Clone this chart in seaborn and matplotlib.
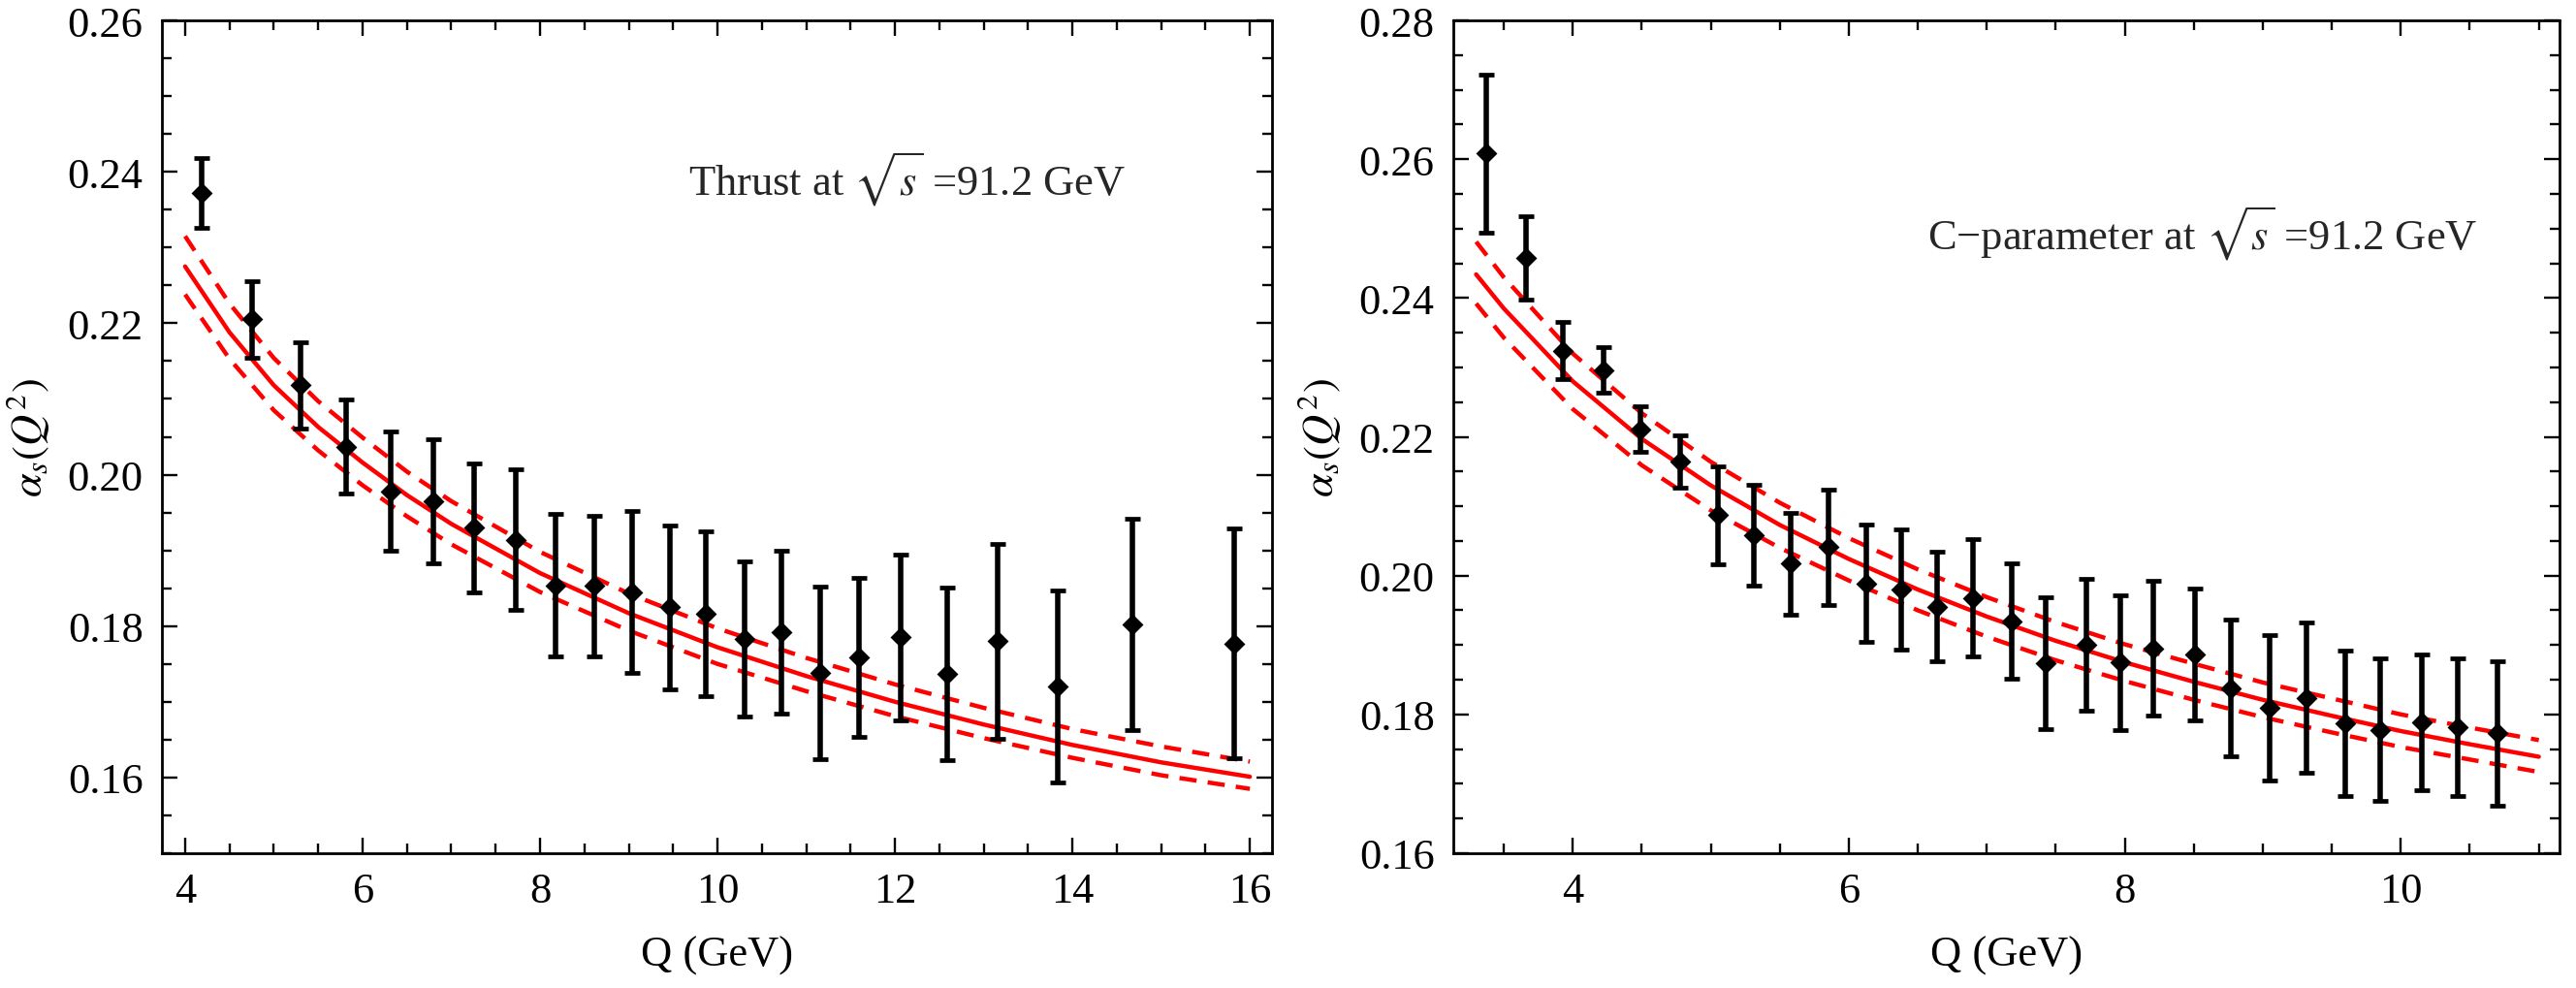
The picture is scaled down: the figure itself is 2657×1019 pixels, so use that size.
import numpy as np
import pandas as pd
import matplotlib
matplotlib.use("Agg")
import matplotlib.pyplot as plt
from matplotlib.ticker import MultipleLocator, FormatStrFormatter
import seaborn as sns

# ---------------- data: Thrust ----------------
thrust_Q = [4.19, 4.76, 5.30, 5.82, 6.32, 6.80, 7.26, 7.73, 8.18, 8.61, 9.04, 9.46,
            9.87, 10.31, 10.72, 11.16, 11.60, 12.07, 12.59, 13.16, 13.84, 14.68, 15.82]
thrust_val = [0.2372, 0.2205, 0.2118, 0.2037, 0.1978, 0.1965, 0.1930, 0.1914, 0.1854,
              0.1853, 0.1845, 0.1825, 0.1816, 0.1783, 0.1792, 0.1738, 0.1759, 0.1785,
              0.1737, 0.1780, 0.1720, 0.1802, 0.1777]
thrust_err = [0.0046, 0.0050, 0.0057, 0.0062, 0.0079, 0.0082, 0.0085, 0.0093, 0.0094,
              0.0093, 0.0107, 0.0108, 0.0109, 0.0102, 0.0107, 0.0114, 0.0105, 0.0110,
              0.0114, 0.0129, 0.0127, 0.0140, 0.0152]

thrust_fit_Q = [4.0, 4.5, 5.0, 5.5, 6.0, 6.5, 7, 8, 9, 10, 11, 12, 13, 14, 15, 16]
thrust_fit = [0.2275, 0.2188, 0.2118, 0.2063, 0.2016, 0.1973, 0.1935, 0.1870, 0.1817,
              0.1772, 0.1734, 0.1700, 0.1670, 0.1643, 0.1620, 0.1601]
thrust_up = [0.2315, 0.2226, 0.2154, 0.2097, 0.2049, 0.2004, 0.1965, 0.1898, 0.1843,
             0.1797, 0.1758, 0.1723, 0.1692, 0.1664, 0.1641, 0.1621]
thrust_lo = [0.2238, 0.2153, 0.2085, 0.2032, 0.1986, 0.1945, 0.1908, 0.1845, 0.1794,
             0.1750, 0.1714, 0.1681, 0.1652, 0.1626, 0.1603, 0.1585]

# ---------------- data: C-parameter ----------------
cpar_Q = [3.37, 3.66, 3.93, 4.22, 4.49, 4.78, 5.05, 5.31, 5.58, 5.85, 6.13, 6.38, 6.64,
          6.90, 7.18, 7.43, 7.72, 7.97, 8.21, 8.51, 8.77, 9.05, 9.32, 9.60, 9.85, 10.15,
          10.41, 10.70]
cpar_val = [0.2608, 0.2458, 0.2324, 0.2296, 0.2211, 0.2164, 0.2087, 0.2058, 0.2017,
            0.2041, 0.1989, 0.1980, 0.1955, 0.1968, 0.1934, 0.1874, 0.1901, 0.1875,
            0.1895, 0.1887, 0.1838, 0.1810, 0.1824, 0.1787, 0.1778, 0.1789, 0.1782, 0.1773]
cpar_err = [0.0114, 0.0060, 0.0041, 0.0033, 0.0033, 0.0038, 0.0071, 0.0073, 0.0074,
            0.0083, 0.0085, 0.0087, 0.0079, 0.0085, 0.0083, 0.0095, 0.0095, 0.0097,
            0.0097, 0.0095, 0.0098, 0.0105, 0.0108, 0.0105, 0.0103, 0.0098, 0.0099, 0.0104]

cpar_fit_Q = [3.3, 3.5, 4, 4.5, 5, 5.5, 6, 6.5, 7, 7.5, 8, 8.5, 9, 9.5, 10, 10.5, 11]
cpar_fit = [0.2434, 0.2385, 0.2280, 0.2197, 0.2130, 0.2073, 0.2024, 0.1980, 0.1941,
            0.1906, 0.1875, 0.1847, 0.1821, 0.1798, 0.1776, 0.1757, 0.1739]
cpar_up = [0.2481, 0.2430, 0.2320, 0.2234, 0.2164, 0.2105, 0.2054, 0.2009, 0.1969,
           0.1933, 0.1901, 0.1873, 0.1846, 0.1823, 0.1800, 0.1781, 0.1763]
cpar_lo = [0.2392, 0.2343, 0.2240, 0.2159, 0.2094, 0.2040, 0.1993, 0.1950, 0.1912,
           0.1878, 0.1848, 0.1821, 0.1796, 0.1774, 0.1753, 0.1735, 0.1717]

x_label = "Q (GeV)"
y_label = r"$\alpha_s(Q^2)$"
thrust_text = r"Thrust at $\sqrt{s}$ =91.2 GeV"
cpar_text = "C\u2212parameter at $\\sqrt{s}$ =91.2 GeV"

# ---------------- style ----------------
sns.set_theme(style="ticks")
plt.rcParams["font.family"] = ["Liberation Serif", "DejaVu Serif"]
plt.rcParams["mathtext.fontset"] = "stix"
plt.rcParams["axes.linewidth"] = 1.0
plt.rcParams["font.size"] = 16

FS = 16
fig = plt.figure(figsize=(13.285, 5.1), dpi=200)
axL = fig.add_axes([0.0629, 0.1363, 0.4309, 0.8421])
axR = fig.add_axes([0.5642, 0.1363, 0.4294, 0.8421])

RED = "#ff0000"
DASH = (0, (4.0, 2.6))


def draw_panel(ax, fq, fit, up, lo, q, v, e):
    df = pd.DataFrame({"Q": fq, "fit": fit, "up": up, "lo": lo})
    sns.lineplot(data=df, x="Q", y="fit", ax=ax, color=RED, lw=1.6,
                 estimator=None, sort=False)
    sns.lineplot(data=df, x="Q", y="up", ax=ax, color=RED, lw=1.6,
                 estimator=None, sort=False, linestyle=DASH)
    sns.lineplot(data=df, x="Q", y="lo", ax=ax, color=RED, lw=1.6,
                 estimator=None, sort=False, linestyle=DASH)
    ax.errorbar(q, v, yerr=e, fmt="D", color="black", ms=4.4, lw=2.0,
                capsize=2.9, capthick=1.7, zorder=5)


draw_panel(axL, thrust_fit_Q, thrust_fit, thrust_up, thrust_lo,
           thrust_Q, thrust_val, thrust_err)
draw_panel(axR, cpar_fit_Q, cpar_fit, cpar_up, cpar_lo,
           cpar_Q, cpar_val, cpar_err)

axL.set_xlim(3.74, 16.25)
axL.set_ylim(0.15, 0.26)
axL.xaxis.set_major_locator(MultipleLocator(2))
axL.xaxis.set_minor_locator(MultipleLocator(0.5))
axL.yaxis.set_major_locator(MultipleLocator(0.02))
axL.yaxis.set_minor_locator(MultipleLocator(0.005))

axR.set_xlim(3.135, 11.15)
axR.set_ylim(0.16, 0.28)
axR.xaxis.set_major_locator(MultipleLocator(2))
axR.xaxis.set_minor_locator(MultipleLocator(0.5))
axR.yaxis.set_major_locator(MultipleLocator(0.02))
axR.yaxis.set_minor_locator(MultipleLocator(0.005))

for ax in (axL, axR):
    ax.yaxis.set_major_formatter(FormatStrFormatter("%.2f"))
    ax.tick_params(which="both", direction="in", top=True, right=True,
                   width=0.85, color="black", labelsize=FS, labelcolor="black")
    ax.tick_params(which="major", length=5.8, pad=7)
    ax.tick_params(which="minor", length=3.6)
    ax.set_xlabel(x_label, fontsize=FS, labelpad=9, color="black")
    ax.set_ylabel(y_label, fontsize=FS, labelpad=6, color="black")
    for sp in ax.spines.values():
        sp.set_color("black")
        sp.set_linewidth(1.0)
    ax.set_facecolor("white")

axL.text(9.67, 0.2370, thrust_text, fontsize=FS, ha="left", va="baseline")
axR.text(6.57, 0.2471, cpar_text, fontsize=FS, ha="left", va="baseline")

fig.savefig("out.png", dpi=200, facecolor="white")
